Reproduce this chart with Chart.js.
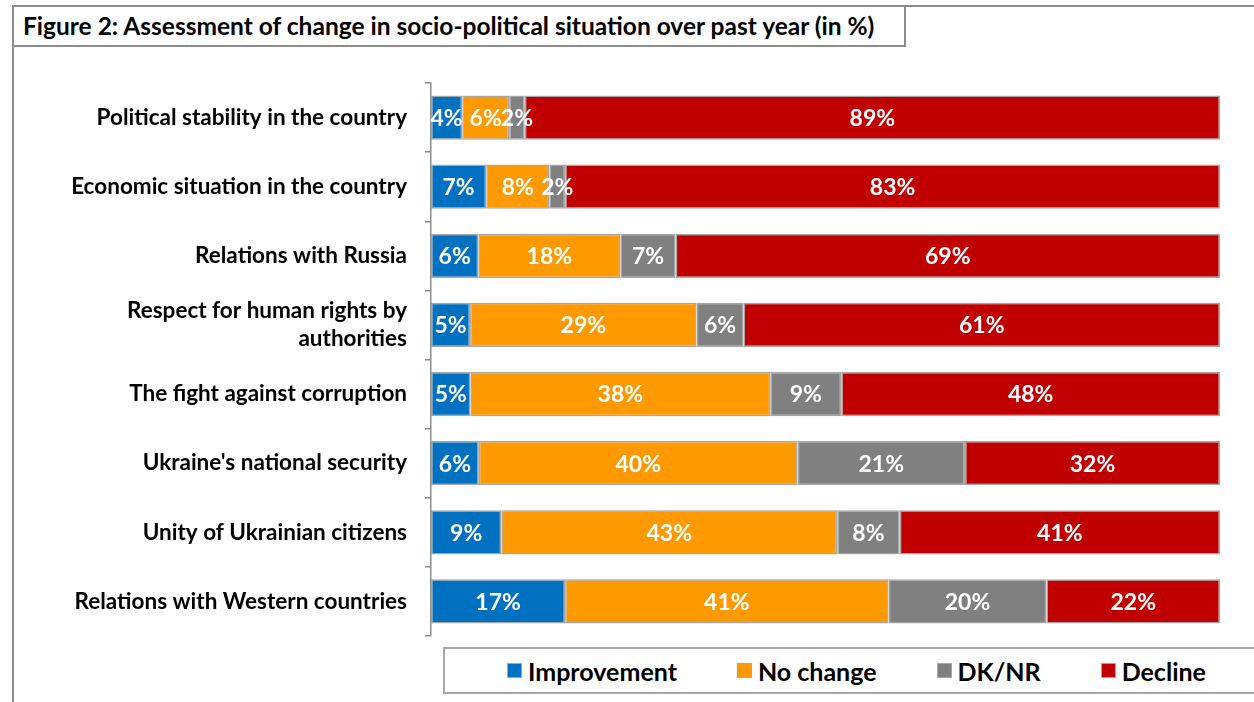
<!DOCTYPE html>
<html>
<head>
<meta charset="utf-8">
<title>Figure 2: Assessment of change in socio-political situation over past year</title>
<script src="https://cdn.jsdelivr.net/npm/chart.js@4.4.1/dist/chart.umd.min.js"></script>
<style>
  * { box-sizing: border-box; }
  body { margin: 0; width: 1254px; height: 702px; overflow: hidden; background: #fff; position: relative; font-family: Lato, "Open Sans", sans-serif; }
  #frame { position: absolute; left: 12px; top: 5px; width: 1300px; height: 760px; border-left: 2px solid #8c8c8c; border-top: 2px solid #8c8c8c; }
  #title { position: absolute; left: 12px; top: 5px; width: 894px; height: 42px; border: 2px solid #8c8c8c; background: #fff;
           font-weight: 700; font-size: 24.5px; line-height: 38px; padding-left: 9px; color: #000; white-space: nowrap; }
  #chart-box { position: absolute; left: 0; top: 0; width: 1254px; height: 702px; }
  #legend { position: absolute; left: 443px; top: 647px; width: 840px; height: 47px; border: 2px solid #a6a6a6; background: #fff;
            display: flex; align-items: center; padding-left: 62px; gap: 60px; }
  .item { display: flex; align-items: center; font-weight: 700; font-size: 25px; color: #000; }
  .swatch { width: 15px; height: 15px; border: 1.5px solid #a6a6a6; margin-right: 6px; }
</style>
</head>
<body>
<div id="frame"></div>
<div id="chart-box"><canvas id="chart"></canvas></div>
<div id="title">Figure 2: Assessment of change in socio-political situation over past year (in %)</div>
<div id="legend"></div>

<script>
// values (in %)
const categories = [
    'Political stability in the country',
    'Economic situation in the country',
    'Relations with Russia',
    ['Respect for human rights by', 'authorities'],
    'The fight against corruption',
    "Ukraine's national security",
    'Unity of Ukrainian citizens',
    'Relations with Western countries'
];
const improvement = [4, 7, 6, 5, 5, 6, 9, 17];
const noChange = [6, 8, 18, 29, 38, 40, 43, 41];
const dkNr = [2, 2, 7, 6, 9, 21, 8, 20];
const decline = [89, 83, 69, 61, 48, 32, 41, 22];

const seriesNames = ['Improvement', 'No change', 'DK/NR', 'Decline'];
const seriesColors = ['#0070C0', '#FF9900', '#808080', '#C00000'];
const seriesValues = [improvement, noChange, dkNr, decline];

// rows don't always add to 100 because of rounding, bars are drawn as shares of the row
const rowTotals = categories.map((c, i) => seriesValues.reduce((sum, s) => sum + s[i], 0));

const datasets = seriesValues.map((values, k) => ({
    label: seriesNames[k],
    data: values.map((v, i) => v / rowTotals[i] * 100),
    rawValues: values,
    backgroundColor: seriesColors[k],
    borderColor: '#a6a6a6',
    borderWidth: 1.5,
    borderSkipped: false,
    barPercentage: 0.64,
    categoryPercentage: 1
}));

// white % labels in the middle of each segment
const barLabels = {
    id: 'barLabels',
    afterDatasetsDraw(chart) {
        const ctx = chart.ctx;
        ctx.save();
        ctx.font = 'bold 23px Lato';
        ctx.fillStyle = '#ffffff';
        ctx.textAlign = 'center';
        ctx.textBaseline = 'middle';
        chart.data.datasets.forEach((ds, i) => {
            chart.getDatasetMeta(i).data.forEach((bar, j) => {
                ctx.fillText(ds.rawValues[j] + '%', (bar.x + bar.base) / 2, bar.y + 1);
            });
        });
        ctx.restore();
    }
};

function buildLegend() {
    const legend = document.getElementById('legend');
    seriesNames.forEach((name, k) => {
        const item = document.createElement('div');
        item.className = 'item';
        const swatch = document.createElement('span');
        swatch.className = 'swatch';
        swatch.style.background = seriesColors[k];
        item.appendChild(swatch);
        item.appendChild(document.createTextNode(name));
        legend.appendChild(item);
    });
}

function drawChart() {
    const ctx = document.getElementById('chart').getContext('2d');
    new Chart(ctx, {
        type: 'bar',
        data: {
            labels: categories,
            datasets: datasets
        },
        options: {
            indexAxis: 'y',
            responsive: true,
            maintainAspectRatio: false,
            animation: false,
            layout: {
                padding: { top: 83, bottom: 66, right: 34, left: 0 }
            },
            plugins: {
                legend: { display: false },
                tooltip: { enabled: false }
            },
            scales: {
                x: {
                    stacked: true,
                    min: 0,
                    max: 100,
                    display: false
                },
                y: {
                    stacked: true,
                    afterFit: (scale) => { scale.width = 431; },
                    border: { display: true, color: '#8c8c8c', width: 1.5 },
                    grid: {
                        offset: true,
                        drawOnChartArea: false,
                        drawTicks: true,
                        tickLength: 6,
                        color: '#8c8c8c',
                        lineWidth: 1.5
                    },
                    ticks: {
                        color: '#000',
                        padding: 18,
                        font: { family: 'Lato', weight: 'bold', size: 22.5, lineHeight: 1.24 }
                    }
                }
            }
        },
        plugins: [barLabels]
    });
}

buildLegend();
document.fonts.load('bold 20px Lato').then(drawChart, drawChart);
</script>
</body>
</html>
